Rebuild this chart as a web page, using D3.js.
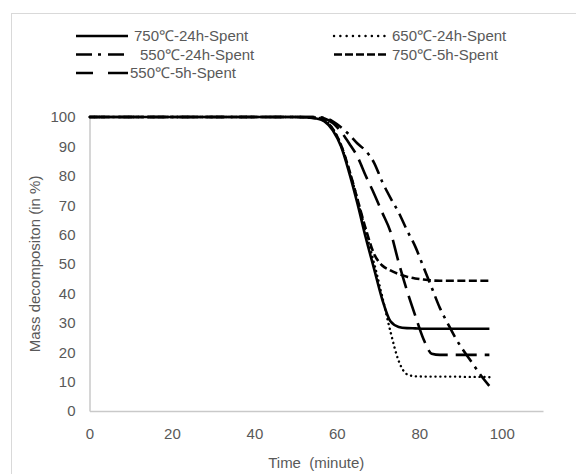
<!DOCTYPE html>
<html>
<head>
<meta charset="utf-8">
<script src="https://cdn.jsdelivr.net/npm/d3@7"></script>
<style>
  html, body { margin: 0; padding: 0; background: #fff; }
  #chart { width: 576px; height: 474px; }
  text { font-family: "Liberation Sans", Arial, sans-serif; fill: #595959; }
</style>
</head>
<body>
<div id="chart"></div>
<script>
// time grid (minute) shared by all series
const times = [0, 50, 55, 57, 59, 61, 63, 65, 67, 69, 71, 73, 75, 77, 79, 81, 83, 85, 87, 89, 91, 93, 95, 97];

// mass decomposition (%)
const mass750_24 = [100, 100, 99.5, 98.5, 95.5, 90, 81, 70.5, 59, 48.5, 38, 30.5, 28.6, 28.2, 28.1, 28, 28, 28, 28, 28, 28, 28, 28, 28];
const mass650_24 = [100, 100, 99.8, 99, 96, 90.5, 82, 72, 61, 50.5, 39, 27, 17, 12.5, 11.8, 11.7, 11.7, 11.7, 11.7, 11.7, 11.6, 11.6, 11.6, 11.5];
const mass550_24 = [100, 100, 100, 99.7, 98.5, 96.5, 94, 91, 88.5, 84.5, 78, 72.5, 67.5, 61.5, 56, 49, 42, 35, 29.5, 24.3, 20, 16, 12, 8.5];
const mass750_5 = [100, 100, 99.6, 98.8, 96, 90.5, 82, 72, 62, 53.5, 49.5, 47.8, 46.6, 45.7, 45.1, 44.7, 44.4, 44.3, 44.3, 44.3, 44.3, 44.3, 44.3, 44.3];
const mass550_5 = [100, 100, 100, 99.5, 98, 95, 91, 86.5, 80, 74, 67.5, 61, 50.5, 41, 32.5, 24.5, 19.5, 19.1, 19.1, 19.1, 19.1, 19.1, 19.1, 19.1];

const seriesNames = ['750℃-24h-Spent', '650℃-24h-Spent', '550℃-24h-Spent', '750℃-5h-Spent', '550℃-5h-Spent'];
const seriesValues = [mass750_24, mass650_24, mass550_24, mass750_5, mass550_5];
const seriesDash = [null, '0.1,4.8', '15,6,3,6', '8,3.5', '21,8'];
const legendDash = [null, '0.1,6.2', '16,6,3,7', '8,3', '17,15,20'];
const seriesCap = ['butt', 'round', 'butt', 'butt', 'butt'];

const xTicks = [0, 20, 40, 60, 80, 100];
const yTicks = [0, 10, 20, 30, 40, 50, 60, 70, 80, 90, 100];

const W = 576, H = 474;
const M = { t: 117, r: 33, b: 63, l: 89.5 };
const FS = '15px';

const svg = d3.select('#chart').append('svg')
  .attr('width', W)
  .attr('height', H)
  .style('display', 'block');

// chart area border
svg.append('rect')
  .attr('x', 11.5).attr('y', 13.5)
  .attr('width', 600).attr('height', 500)
  .attr('fill', 'none')
  .attr('stroke', '#d9d9d9');

const x = d3.scaleLinear().domain([0, 110]).range([M.l, W - M.r]);
const y = d3.scaleLinear().domain([0, 100]).range([H - M.b, M.t]);

// axes
const xAxis = svg.append('g')
  .attr('transform', `translate(0,${y(0)})`)
  .call(d3.axisBottom(x).tickValues(xTicks).tickSize(0).tickPadding(17));
const yAxis = svg.append('g')
  .attr('transform', `translate(${x(0)},0)`)
  .call(d3.axisLeft(y).tickValues(yTicks).tickSize(0).tickPadding(14));

[xAxis, yAxis].forEach(g => {
  g.select('.domain').attr('stroke', '#c9c9c9').attr('stroke-width', 1.5);
  g.selectAll('text')
    .style('font-size', FS)
    .style('font-family', '"Liberation Sans", Arial, sans-serif')
    .attr('fill', '#595959');
});

// axis titles
svg.append('text')
  .attr('x', (x(0) + x(110)) / 2)
  .attr('y', 468)
  .attr('text-anchor', 'middle')
  .style('font-size', FS)
  .text('Time  (minute)')
  .style('white-space', 'pre');

svg.append('text')
  .attr('transform', `translate(40,${(y(0) + y(100)) / 2}) rotate(-90)`)
  .attr('text-anchor', 'middle')
  .style('font-size', FS)
  .text('Mass decompositon (in %)');

// series lines
const line = d3.line()
  .x((d, i) => x(times[i]))
  .y(d => y(d))
  .curve(d3.curveMonotoneX);

seriesValues.forEach((vals, k) => {
  svg.append('path')
    .datum(vals)
    .attr('d', line)
    .attr('fill', 'none')
    .attr('stroke', '#000')
    .attr('stroke-width', k === 1 ? 2.4 : 2.6)
    .attr('stroke-linecap', seriesCap[k])
    .attr('stroke-dasharray', seriesDash[k]);
});

// legend
const legendPos = [
  { lx: 76, tx: 134, y: 36 },
  { lx: 334, tx: 392, y: 36 },
  { lx: 76, tx: 140, y: 54.5 },
  { lx: 334, tx: 392, y: 54.5 },
  { lx: 76, tx: 130, y: 73 }
];
const leg = svg.append('g');
seriesNames.forEach((name, k) => {
  const p = legendPos[k];
  leg.append('line')
    .attr('x1', p.lx).attr('x2', p.lx + 52)
    .attr('y1', p.y).attr('y2', p.y)
    .attr('stroke', '#000')
    .attr('stroke-width', k === 1 ? 2.4 : 2.6)
    .attr('stroke-linecap', seriesCap[k])
    .attr('stroke-dasharray', legendDash[k]);
  leg.append('text')
    .attr('x', p.tx).attr('y', p.y)
    .attr('dy', '0.35em')
    .style('font-size', FS)
    .text(name);
});
</script>
</body>
</html>
